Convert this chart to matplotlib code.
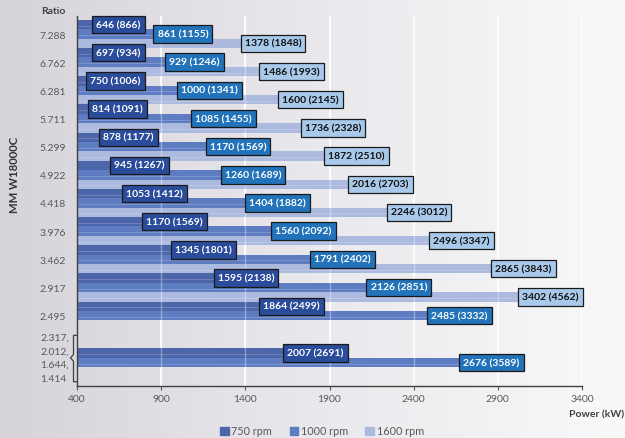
import numpy as np
import matplotlib
matplotlib.use("Agg")
import matplotlib.pyplot as plt
import matplotlib.transforms as mtransforms
from matplotlib.colors import LinearSegmentedColormap
from matplotlib.patches import Patch

plt.rcParams['font.family'] = ['Lato', 'DejaVu Sans']

# data: power in kW (hp)
ratios = ['7.288', '6.762', '6.281', '5.711', '5.299', '4.922', '4.418',
          '3.976', '3.462', '2.917', '2.495']
merged_ratios = ['2.317,', '2.012,', '1.644,', '1.414']
kw_750 = [646, 697, 750, 814, 878, 945, 1053, 1170, 1345, 1595, 1864, 2007]
hp_750 = [866, 934, 1006, 1091, 1177, 1267, 1412, 1569, 1801, 2138, 2499, 2691]
kw_1000 = [861, 929, 1000, 1085, 1170, 1260, 1404, 1560, 1791, 2126, 2485, 2676]
hp_1000 = [1155, 1246, 1341, 1455, 1569, 1689, 1882, 2092, 2402, 2851, 3332, 3589]
kw_1600 = [1378, 1486, 1600, 1736, 1872, 2016, 2246, 2496, 2865, 3402, None, None]
hp_1600 = [1848, 1993, 2145, 2328, 2510, 2703, 3012, 3347, 3843, 4562, None, None]
x_ticks = [400, 900, 1400, 1900, 2400, 2900, 3400]

series = [
    ('750 rpm', kw_750, hp_750, '#4d66aa', '#2b4c9b', 'white'),
    ('1000 rpm', kw_1000, hp_1000, '#5d7cc2', '#2273b9', 'white'),
    ('1600 rpm', kw_1600, hp_1600, '#adbadf', '#a9c9eb', '#111111'),
]

fig = plt.figure(figsize=(6.25, 4.39), dpi=100)

# background gradient
bg = fig.add_axes([0, 0, 1, 1], zorder=-10)
grad = np.linspace(0, 1, 256).reshape(1, -1)
cmap = LinearSegmentedColormap.from_list('bg', ['#d6d4da', '#e9e8ec', '#f9f9fa'])
bg.imshow(grad, aspect='auto', cmap=cmap, extent=[0, 1, 0, 1])
bg.axis('off')

ax = fig.add_axes([77 / 625, 1 - 387 / 439, 505 / 625, 370 / 439])
ax.set_facecolor('none')

xmin, xmax = 400, 3400
n = len(ratios)
# each ratio takes one slot, the merged low ratios take two
pos = list(np.arange(n) + 0.5) + [n + 1.0]
h = 1 / 3

for x in x_ticks[1:]:
    ax.axvline(x, color='white', lw=1.3, zorder=0.5)
    ax.axvline(x, color='white', lw=1.0, alpha=0.35, zorder=3)

for k, (name, kw, hp, bar_c, box_c, txt_c) in enumerate(series):
    for i, (v, p) in enumerate(zip(kw, hp)):
        if v is None:
            continue
        if i == n:
            y = pos[i] + (k - 0.5) * h
        else:
            y = pos[i] + (k - 1) * h
        ax.barh(y, v - xmin, left=xmin, height=h, color=bar_c, zorder=2)
        ax.barh(y + 0.17 * h, v - xmin, left=xmin, height=0.1 * h,
                color='white', alpha=0.18, zorder=2.1, lw=0)
        label = f'{v} ({p})'
        if k == 0:
            ha, anchor, dx = 'right', max(v, 800), -2.8
        elif v + 390 > xmax:
            ha, anchor, dx = 'right', v, -2.8
        else:
            ha, anchor, dx = 'left', v, 2.2
        ax.annotate(label, (anchor, y), xytext=(dx, 0), textcoords='offset points',
                    ha=ha, va='center', fontsize=7.5, fontweight='bold', color=txt_c,
                    zorder=6,
                    bbox=dict(boxstyle='square,pad=0.4', fc=box_c, ec='#1a1a1a', lw=0.9))

ax.set_xlim(xmin, xmax)
ax.set_ylim(n + 2, -0.14)
ax.set_xticks(x_ticks)
ax.set_yticks(pos[:n])
ax.set_yticklabels(ratios)
ax.tick_params(axis='y', length=0, pad=8, labelsize=7.5, labelcolor='#595959')
ax.tick_params(axis='x', length=3, direction='out', color='#595959', pad=3,
               labelsize=7.5, labelcolor='#595959')
for s in ['top', 'right']:
    ax.spines[s].set_visible(False)
for s in ['left', 'bottom']:
    ax.spines[s].set_color('#404040')
    ax.spines[s].set_linewidth(1.0)

# merged ratio labels with bracket
trans = mtransforms.blended_transform_factory(ax.transAxes, ax.transData)
for j, r in enumerate(merged_ratios):
    ax.text((40 - 77) / 505, pos[n] + (j - 1.5) * 0.48, r, transform=trans,
            ha='left', va='center', fontsize=7.5, color='#595959')
bx = (73.5 - 77) / 505
sx = (76.5 - 77) / 505
nx = (70.5 - 77) / 505
ytop, ybot = pos[n] - 0.8, pos[n] + 0.85
ax.plot([sx, bx, bx, nx, bx, bx, sx],
        [ytop, ytop, pos[n] - 0.12, pos[n], pos[n] + 0.12, ybot, ybot],
        transform=trans, color='#404040', lw=0.9, clip_on=False)

fig.text(41 / 625, 1 - 12 / 439, 'Ratio', fontsize=7.5, fontweight='bold',
         color='#404040', ha='left', va='center')
fig.text(15 / 625, 1 - 175 / 439, 'MM W18000C', fontsize=8.2, fontweight='bold',
         color='#333333', rotation=90, ha='center', va='center')
fig.text(624 / 625, 1 - 415 / 439, 'Power (kW)', fontsize=7.5, fontweight='bold',
         color='#404040', ha='right', va='center')

handles = [Patch(color=s[3]) for s in series]
fig.legend(handles, [s[0] for s in series], loc='center', ncol=3,
           bbox_to_anchor=(322 / 625, 1 - 432 / 439), frameon=False,
           fontsize=7.8, labelcolor='#595959', handlelength=0.8, handleheight=0.8,
           handletextpad=0.25, columnspacing=1.6)

fig.savefig('out.png', dpi=100)
